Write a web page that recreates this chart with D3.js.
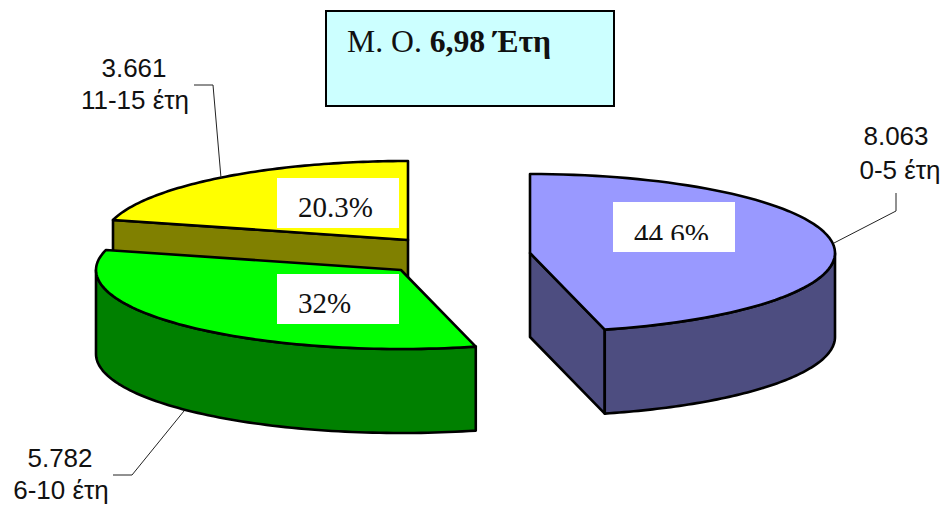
<!DOCTYPE html>
<html>
<head>
<meta charset="utf-8">
<script src="https://cdn.jsdelivr.net/npm/d3@7"></script>
<style>
    html, body { margin: 0; padding: 0; background: #fff; }
    svg { display: block; }
    .pct { font-family: "Liberation Serif", serif; font-size: 29px; fill: #111; }
    .cat { font-family: "Liberation Sans", sans-serif; font-size: 26px; fill: #111; text-anchor: middle; }
    .mean { font-family: "Liberation Serif", serif; font-size: 31.7px; fill: #111; }
</style>
</head>
<body>
<svg id="chart" width="946" height="506"></svg>
<script>
const ageGroups = ["0-5 έτη", "6-10 έτη", "11-15 έτη"];
const counts = [8063, 5782, 3661];
const countLabels = ["8.063", "5.782", "3.661"];
const percentLabels = ["44.6%", "32%", "20.3%"];
const topColors = ["#9999ff", "#00ff00", "#ffff00"];
const sideColors = ["#4d4d80", "#008000", "#808000"];

const rx = 305, ry = 79, depth = 84;
// exploded centre of every slice
const centres = [[530, 253], [401, 270], [408, 240]];
const labelBoxes = [[613, 202], [277, 274], [277, 178]];
const labelTextPos = [[634, 244], [298, 313], [298, 217]];
const countPos = [[896, 145, 900, 179], [60, 467, 61, 499], [134, 77, 135, 109]];
const leaders = [
    [[896, 193], [896, 211], [834, 243]],
    [[113, 475], [132, 475], [184, 411]],
    [[194, 85], [213, 85], [221, 178]]
];

const svg = d3.select("#chart");

const slices = d3.pie().sort(null).value(d => d)(counts);

const xs = d3.scaleLinear().domain([-1, 1]).range([-rx, rx]);
const ys = d3.scaleLinear().domain([-1, 1]).range([ry, -ry]);

function onRim(i, angle, dy = 0) {
    const [cx, cy] = centres[i];
    return [cx + xs(Math.sin(angle)), cy + ys(Math.cos(angle)) + dy];
}

function rimPoints(i, a0, a1, dy = 0) {
    const n = 80;
    return d3.range(n + 1).map(k => onRim(i, a0 + (a1 - a0) * k / n, dy));
}

const line = d3.line();

function face(points, fill) {
    svg.append("path")
        .attr("d", line(points) + "Z")
        .attr("fill", fill)
        .attr("stroke", "#000")
        .attr("stroke-width", 2.6)
        .attr("stroke-linejoin", "round");
}

function cutFace(i, angle) {
    const [cx, cy] = centres[i];
    face([[cx, cy], onRim(i, angle), onRim(i, angle, depth), [cx, cy + depth]], sideColors[i]);
}

function drawSlice(i) {
    const s = slices[i];

    // flat cut faces, only those turned toward the viewer
    if (s.endAngle > 0 && s.endAngle < Math.PI) cutFace(i, s.endAngle);
    if (s.startAngle > Math.PI && s.startAngle < 2 * Math.PI) cutFace(i, s.startAngle);

    // outer wall, only the part on the front half
    const a0 = Math.max(s.startAngle, Math.PI / 2);
    const a1 = Math.min(s.endAngle, Math.PI * 1.5);
    if (a1 > a0) {
        face(rimPoints(i, a0, a1).concat(rimPoints(i, a1, a0, depth)), sideColors[i]);
    }

    face([centres[i]].concat(rimPoints(i, s.startAngle, s.endAngle)), topColors[i]);
}

// back to front, so the green slice covers the yellow side
[2, 1, 0].forEach(drawSlice);

// leader lines
leaders.forEach(pts => {
    svg.append("path")
        .attr("d", line(pts))
        .attr("fill", "none")
        .attr("stroke", "#222")
        .attr("stroke-width", 1);
});

// white percentage boxes
percentLabels.forEach((label, i) => {
    const [bx, by] = labelBoxes[i];
    svg.append("rect")
        .attr("x", bx).attr("y", by)
        .attr("width", 122).attr("height", 50)
        .attr("fill", "#fff");
});

// the blue slice's label is cut off by its box in the original
svg.append("clipPath").attr("id", "cut")
    .append("rect")
    .attr("x", 613).attr("y", 202)
    .attr("width", 122).attr("height", 38);

percentLabels.forEach((label, i) => {
    const [tx, ty] = labelTextPos[i];
    svg.append("text")
        .attr("class", "pct")
        .attr("x", tx).attr("y", ty)
        .attr("clip-path", i === 0 ? "url(#cut)" : null)
        .text(label);
});

// category labels
ageGroups.forEach((group, i) => {
    const [x1, y1, x2, y2] = countPos[i];
    svg.append("text").attr("class", "cat").attr("x", x1).attr("y", y1).text(countLabels[i]);
    svg.append("text").attr("class", "cat").attr("x", x2).attr("y", y2).text(group);
});

// mean box
svg.append("rect")
    .attr("x", 326).attr("y", 11)
    .attr("width", 288).attr("height", 95)
    .attr("fill", "#ccffff")
    .attr("stroke", "#000")
    .attr("stroke-width", 2);

const mean = svg.append("text").attr("class", "mean").attr("x", 347).attr("y", 52);
mean.append("tspan").text("Μ. Ο. ");
mean.append("tspan").attr("font-weight", "bold").text("6,98 Έτη");
</script>
</body>
</html>
